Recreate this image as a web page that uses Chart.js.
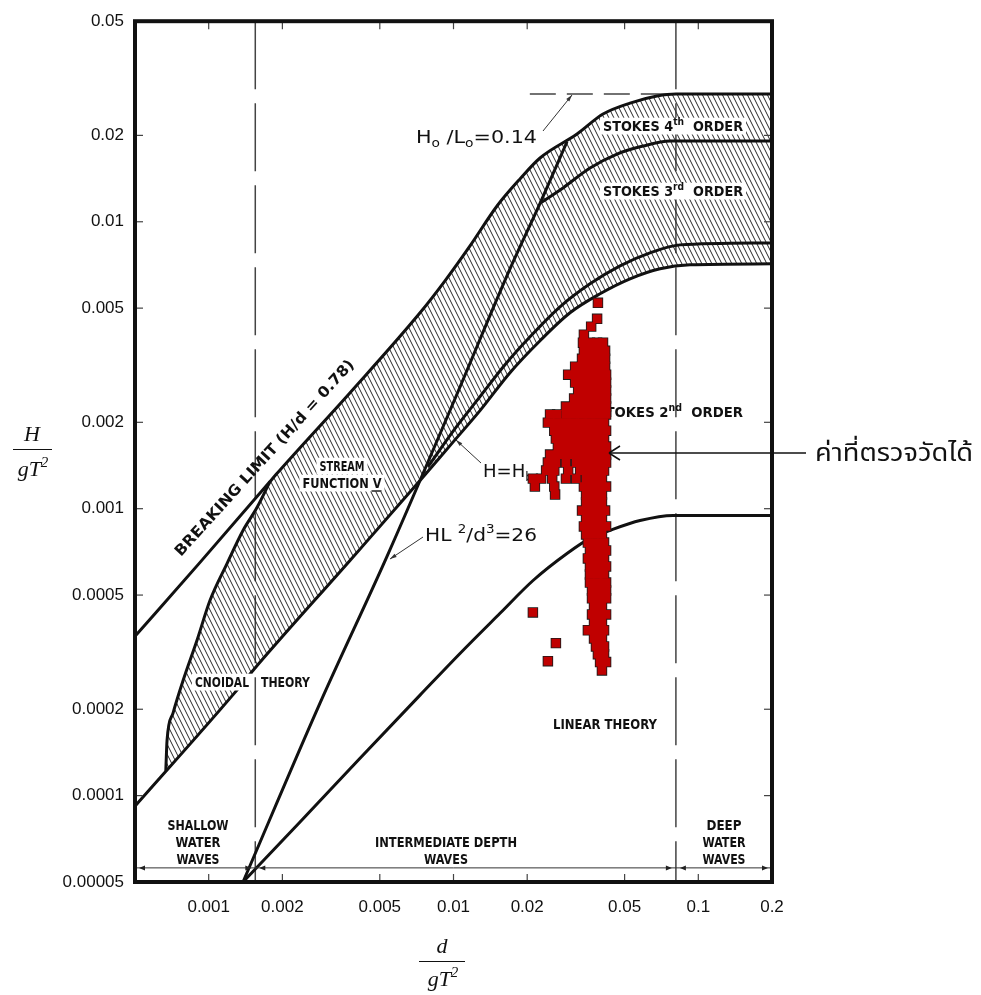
<!DOCTYPE html>
<html>
<head>
<meta charset="utf-8">
<script src="https://cdn.jsdelivr.net/npm/chart.js@4.4.1/dist/chart.umd.min.js"></script>
<style>
  html, body { margin: 0; background: #fff; }
  #wrap { width: 981px; height: 995px; position: relative; }
</style>
</head>
<body>
<div id="wrap"><canvas id="c"></canvas></div>
<script>
// axis ticks
const xTicks = [0.001, 0.002, 0.005, 0.01, 0.02, 0.05, 0.1, 0.2];
const xTickLabels = ['0.001', '0.002', '0.005', '0.01', '0.02', '0.05', '0.1', '0.2'];
const yTicks = [0.00005, 0.0001, 0.0002, 0.0005, 0.001, 0.002, 0.005, 0.01, 0.02, 0.05];
const yTickLabels = ['0.00005', '0.0001', '0.0002', '0.0005', '0.001', '0.002', '0.005', '0.01', '0.02', '0.05'];

// limits of validity (d/gT2 , H/gT2)
const breakingD = [0.0005, 0.000922, 0.00178, 0.001883, 0.00378, 0.0073, 0.00923, 0.01168, 0.01506, 0.01869, 0.02257, 0.03195, 0.04081, 0.05261, 0.06783, 0.081, 0.2];
const breakingH = [0.000359, 0.00065, 0.001243, 0.001315, 0.002537, 0.004817, 0.006224, 0.008239, 0.01135, 0.0141, 0.01668, 0.02021, 0.02374, 0.02592, 0.02742, 0.02786, 0.02786];
const cnoidalD = [0.000668, 0.000676, 0.000715, 0.000786, 0.000896, 0.001012, 0.001188, 0.001381, 0.001575, 0.00178];
const cnoidalH = [0.000122, 0.000156, 0.000194, 0.000252, 0.000348, 0.000479, 0.000644, 0.00084, 0.001009, 0.001243];
const quarterD = [0.0005, 0.001281, 0.001517, 0.003778, 0.0073, 0.009677, 0.01283, 0.01701, 0.02257, 0.02992, 0.03968, 0.05261, 0.06977, 0.0925, 0.2];
const quarterH = [0.0000919, 0.000229, 0.000273, 0.00066, 0.001253, 0.001659, 0.002196, 0.002978, 0.003849, 0.004817, 0.005609, 0.006323, 0.006854, 0.007077, 0.007134];
const ursellD = [0.001381, 0.002849, 0.005351, 0.010143, 0.01701, 0.02257, 0.02908];
const ursellH = [0.00005, 0.00021, 0.000682, 0.002417, 0.006854, 0.0116, 0.019];
const stokes43D = [0.02257, 0.02801, 0.03611, 0.04655, 0.05945, 0.07664, 0.2];
const stokes43H = [0.0116, 0.01312, 0.01539, 0.01722, 0.01836, 0.0191, 0.0191];
const stokes32D = [0.00787, 0.010143, 0.01283, 0.01623, 0.02054, 0.02723, 0.03611, 0.04789, 0.06348, 0.0842, 0.2];
const stokes32H = [0.001402, 0.001901, 0.002457, 0.003175, 0.003973, 0.005052, 0.006076, 0.00702, 0.007791, 0.008307, 0.008441];
const stokes2D = [0.001381, 0.002361, 0.004151, 0.0073, 0.01063, 0.01549, 0.02113, 0.02908, 0.03611, 0.0436, 0.0578, 0.07884, 0.2];
const stokes2H = [0.00005, 0.0000809, 0.000135, 0.000224, 0.000313, 0.000432, 0.000562, 0.000698, 0.000788, 0.00084, 0.000909, 0.000947, 0.000947];

// shallow / deep water limits and the deep water steepness H0/L0 = 0.14
const zoneLimits = [0.00155, 0.081];
const deepLimitH = 0.02786;
const deepDashFrom = 0.0205;
const zoneArrowH = 0.000056;

// measured waves: one H/gT2 per row, the d/gT2 values seen on that row
const obsH = [0.00522, 0.00459, 0.00431, 0.00404, 0.00379, 0.00355, 0.00333, 0.003125, 0.00293, 0.00275,
  0.00258, 0.00242, 0.00227, 0.00213, 0.001995, 0.00187, 0.001755, 0.001646, 0.001544, 0.001448,
  0.001358, 0.001273, 0.001194, 0.00112, 0.001051, 0.000985, 0.000924, 0.000867, 0.000813, 0.000762,
  0.000715, 0.000671, 0.000629, 0.00059, 0.000553, 0.000519, 0.000487, 0.000457, 0.000428, 0.000402,
  0.000377, 0.000353, 0.000331, 0.000311, 0.000292, 0.000273];
const obsD = [
  [0.0389], [0.0386], [0.0365], [0.0341],
  [0.0338, 0.0361, 0.0386, 0.0408],
  [0.0341, 0.0365, 0.0389, 0.0416],
  [0.0335, 0.0361, 0.0389, 0.0416],
  [0.0314, 0.0335, 0.0358, 0.0386, 0.0416],
  [0.0294, 0.0317, 0.0341, 0.0368, 0.0397, 0.042],
  [0.0314, 0.0338, 0.0365, 0.0393, 0.042],
  [0.0323, 0.0348, 0.0375, 0.0404, 0.042],
  [0.0311, 0.0335, 0.0361, 0.0389, 0.042],
  [0.0288, 0.0311, 0.0335, 0.0361, 0.0389, 0.042],
  [0.0248, 0.0265, 0.0288, 0.0311, 0.0335, 0.0361, 0.0389, 0.042],
  [0.0243, 0.0262, 0.0283, 0.0305, 0.0329, 0.0354, 0.0382, 0.0412],
  [0.0258, 0.0278, 0.0299, 0.0323, 0.0348, 0.0375, 0.0404, 0.042],
  [0.0262, 0.0283, 0.0305, 0.0329, 0.0354, 0.0382, 0.0412],
  [0.0267, 0.0288, 0.0311, 0.0335, 0.0361, 0.0389, 0.042],
  [0.0248, 0.0267, 0.0288, 0.0311, 0.0335, 0.0361, 0.0389, 0.042],
  [0.0243, 0.0262, 0.0288, 0.0317, 0.0341, 0.0368, 0.0397, 0.042],
  [0.0239, 0.0258, 0.0294, 0.0329, 0.0354, 0.0382, 0.0412],
  [0.0211, 0.0228, 0.0253, 0.0288, 0.0317, 0.0348, 0.0375, 0.0404],
  [0.0215, 0.0258, 0.0341, 0.0368, 0.0397, 0.042],
  [0.026, 0.0348, 0.0375, 0.0404],
  [0.0348, 0.0375, 0.0404],
  [0.0335, 0.0361, 0.0389, 0.0416],
  [0.0348, 0.0375, 0.0404],
  [0.0341, 0.0368, 0.0397, 0.042],
  [0.0348, 0.0375, 0.0404],
  [0.0354, 0.0382, 0.0412],
  [0.0361, 0.0389, 0.042],
  [0.0354, 0.0382, 0.0412],
  [0.0361, 0.0389, 0.042],
  [0.0361, 0.0389, 0.0412],
  [0.0361, 0.0389, 0.042],
  [0.0368, 0.0397, 0.042],
  [0.0368, 0.0397, 0.042],
  [0.0375, 0.0404],
  [0.0368, 0.0397, 0.042],
  [0.0375, 0.0404],
  [0.0354, 0.0382, 0.0412],
  [0.0375, 0.0404],
  [0.0382, 0.0412],
  [0.0389, 0.0412],
  [0.0397, 0.042],
  [0.0404]
];
const obsLoneD = [0.0211, 0.0262, 0.0243];
const obsLoneH = [0.000435, 0.00034, 0.000294];

const pts = (xs, ys) => xs.map((v, i) => ({ x: v, y: ys[i] }));
const measured = obsH.flatMap((h, i) => obsD[i].map(d => ({ x: d, y: h }))).concat(pts(obsLoneD, obsLoneH));
const lastCn = cnoidalD[cnoidalD.length - 1];
const hatchTop = pts(cnoidalD, cnoidalH).concat(pts(breakingD, breakingH).filter(p => p.x > lastCn));

// hatching
function hatchPattern() {
  const c = document.createElement('canvas');
  c.width = 5; c.height = 10;
  const g = c.getContext('2d');
  g.strokeStyle = '#262626';
  g.lineWidth = 1;
  g.beginPath();
  [-5, 0, 5].forEach(o => { g.moveTo(o - 5, -10); g.lineTo(o + 10, 20); });
  g.stroke();
  return g.createPattern(c, 'repeat');
}

const CAD = '"DejaVu Sans Condensed", "Liberation Sans Narrow", "DejaVu Sans", sans-serif';
const PLAIN = '"DejaVu Sans", sans-serif';
const SERIF = '"Liberation Serif", "DejaVu Serif", serif';

function rich(ctx, parts, x, y, o) {
  const fs = o.size;
  const fontFor = k => (o.style ? o.style + ' ' : '') + Math.round(k ? fs * 0.68 : fs) + 'px ' + o.family;
  let w = 0;
  parts.forEach(([t, k]) => { ctx.font = fontFor(k); w += ctx.measureText(t).width; });
  const sx = o.width ? o.width / w : 1;
  const W = w * sx;
  const x0 = o.align === 'center' ? x - W / 2 : x;
  ctx.save();
  if (o.box) {
    ctx.fillStyle = '#fff';
    ctx.fillRect(x0 - 3, y - fs * 0.95, W + 6, fs * 1.2);
  }
  ctx.translate(x0, y);
  ctx.scale(sx, 1);
  ctx.fillStyle = o.color || '#111';
  ctx.textAlign = 'left';
  ctx.textBaseline = 'alphabetic';
  let cx = 0;
  parts.forEach(([t, k]) => {
    ctx.font = fontFor(k);
    const dy = k === 'sup' ? -fs * 0.42 : (k === 'sub' ? fs * 0.22 : 0);
    ctx.fillText(t, cx, dy);
    cx += ctx.measureText(t).width;
  });
  ctx.restore();
  return { x0: x0, w: W };
}

function seg(ctx, x1, y1, x2, y2) {
  ctx.beginPath(); ctx.moveTo(x1, y1); ctx.lineTo(x2, y2); ctx.stroke();
}

function leader(ctx, x1, y1, x2, y2) {
  ctx.save();
  ctx.strokeStyle = '#333'; ctx.fillStyle = '#333'; ctx.lineWidth = 1;
  seg(ctx, x1, y1, x2, y2);
  const a = Math.atan2(y2 - y1, x2 - x1);
  ctx.beginPath();
  ctx.moveTo(x2, y2);
  ctx.lineTo(x2 - 7 * Math.cos(a - 0.28), y2 - 7 * Math.sin(a - 0.28));
  ctx.lineTo(x2 - 7 * Math.cos(a + 0.28), y2 - 7 * Math.sin(a + 0.28));
  ctx.closePath(); ctx.fill();
  ctx.restore();
}

function tri(ctx, x, y, dir) {
  ctx.beginPath();
  ctx.moveTo(x, y);
  ctx.lineTo(x - dir * 6, y - 2.5);
  ctx.lineTo(x - dir * 6, y + 2.5);
  ctx.closePath(); ctx.fill();
}

const LBL = { size: 14, family: CAD, style: 'bold' };
const lbl = extra => Object.assign({}, LBL, extra);

const decor = {
  id: 'decor',
  beforeDatasetsDraw(chart) {
    const { ctx, chartArea: a, scales: { x, y } } = chart;
    ctx.save();
    ctx.strokeStyle = '#444';
    ctx.lineWidth = 1.5;
    ctx.setLineDash([68, 14]);
    zoneLimits.forEach(v => { const px = x.getPixelForValue(v); seg(ctx, px, a.top, px, a.bottom); });
    ctx.setLineDash([26, 11]);
    const py = y.getPixelForValue(deepLimitH);
    seg(ctx, x.getPixelForValue(deepDashFrom), py, x.getPixelForValue(zoneLimits[1]), py);
    ctx.setLineDash([]);

    // labels partly hidden by the measured points
    rich(ctx, [['STOKES 2', ''], ['nd', 'sup'], ['  ORDER', '']], 596, 417, lbl({ width: 147 }));
    rich(ctx, [['H=H', ''], ['b', 'sub']], 483, 477, { size: 18, family: PLAIN, width: 50 });
    leader(ctx, 481, 463, 456, 440);
    ctx.restore();
  },
  afterDatasetsDraw(chart) {
    const { ctx, chartArea: a, scales: { x, y } } = chart;
    ctx.save();

    // region labels
    rich(ctx, [['STOKES 4', ''], ['th', 'sup'], ['  ORDER', '']], 603, 131, lbl({ width: 140, box: true }));
    rich(ctx, [['STOKES 3', ''], ['rd', 'sup'], ['  ORDER', '']], 603, 196, lbl({ width: 140, box: true }));
    rich(ctx, [['STREAM', '']], 342, 471, lbl({ width: 45, align: 'center', box: true }));
    const fn = rich(ctx, [['FUNCTION V', '']], 342, 488, lbl({ width: 79, align: 'center', box: true }));
    ctx.strokeStyle = '#111'; ctx.lineWidth = 1.4;
    seg(ctx, fn.x0 + fn.w - 10, 491, fn.x0 + fn.w, 491);
    rich(ctx, [['CNOIDAL', '']], 195, 687, lbl({ width: 54, box: true }));
    rich(ctx, [['THEORY', '']], 261, 687, lbl({ width: 49 }));
    rich(ctx, [['LINEAR THEORY', '']], 553, 729, lbl({ width: 104 }));

    ctx.save();
    ctx.translate(181, 557);
    ctx.rotate(Math.atan2(-192, 174));
    rich(ctx, [['BREAKING LIMIT (H/d = 0.78)', '']], 0, 0, lbl({ size: 15, width: 259 }));
    ctx.restore();

    [['SHALLOW', 830, 61], ['WATER', 847, 45], ['WAVES', 864, 43]].forEach(([t, by, w]) =>
      rich(ctx, [[t, '']], 198, by, lbl({ width: w, align: 'center' })));
    [['INTERMEDIATE DEPTH', 847, 142], ['WAVES', 864, 44]].forEach(([t, by, w]) =>
      rich(ctx, [[t, '']], 446, by, lbl({ width: w, align: 'center' })));
    [['DEEP', 830, 35], ['WATER', 847, 43], ['WAVES', 864, 43]].forEach(([t, by, w]) =>
      rich(ctx, [[t, '']], 724, by, lbl({ width: w, align: 'center' })));

    // formula labels with leaders
    rich(ctx, [['H', ''], ['o', 'sub'], [' /L', ''], ['o', 'sub'], ['=0.14', '']], 416, 143, { size: 18, family: PLAIN, width: 121 });
    leader(ctx, 543, 131, 572, 95);
    rich(ctx, [['HL ', ''], ['2', 'sup'], ['/d', ''], ['3', 'sup'], ['=26', '']], 425, 541, { size: 18, family: PLAIN, width: 112 });
    leader(ctx, 423, 537, 390, 559);

    // zone arrows along the bottom
    const ay = y.getPixelForValue(zoneArrowH);
    const xs = [a.left, x.getPixelForValue(zoneLimits[0]), x.getPixelForValue(zoneLimits[1]), a.right];
    ctx.strokeStyle = '#333'; ctx.fillStyle = '#222'; ctx.lineWidth = 1;
    seg(ctx, a.left, ay, a.right, ay);
    for (let i = 0; i < 3; i++) {
      tri(ctx, xs[i] + 4, ay, -1);
      tri(ctx, xs[i + 1] - 4, ay, 1);
    }

    // tick marks pointing inwards on all four sides
    ctx.strokeStyle = '#444'; ctx.lineWidth = 1.2;
    xTicks.forEach(v => {
      if (v >= 0.2) return;
      const px = x.getPixelForValue(v);
      seg(ctx, px, a.bottom, px, a.bottom - 8);
      seg(ctx, px, a.top, px, a.top + 8);
    });
    yTicks.forEach(v => {
      if (v <= 0.00005 || v >= 0.05) return;
      const py = y.getPixelForValue(v);
      seg(ctx, a.left, py, a.left + 8, py);
      seg(ctx, a.right, py, a.right - 8, py);
    });

    // frame
    ctx.strokeStyle = '#111'; ctx.lineWidth = 4;
    ctx.strokeRect(a.left, a.top, a.right - a.left, a.bottom - a.top);

    // axis titles as fractions
    rich(ctx, [['H', '']], 32, 441, { size: 22, family: SERIF, style: 'italic', align: 'center' });
    ctx.lineWidth = 1; ctx.strokeStyle = '#111';
    seg(ctx, 13, 449.5, 52, 449.5);
    rich(ctx, [['gT', ''], ['2', 'sup']], 33, 476, { size: 22, family: SERIF, style: 'italic', align: 'center' });
    rich(ctx, [['d', '']], 442, 953, { size: 22, family: SERIF, style: 'italic', align: 'center' });
    seg(ctx, 419, 961.5, 465, 961.5);
    rich(ctx, [['gT', ''], ['2', 'sup']], 443, 986, { size: 22, family: SERIF, style: 'italic', align: 'center' });

    // annotation for the measured points
    ctx.strokeStyle = '#111'; ctx.lineWidth = 1.5;
    seg(ctx, 806, 453, 609, 453);
    seg(ctx, 609, 453, 620, 446);
    seg(ctx, 609, 453, 620, 460);
    rich(ctx, [['ค่าที่ตรวจวัดได้', '']], 815, 461,
      { size: 25, family: '"Noto Sans Thai", "Noto Sans Thai UI", Tahoma, "Noto Sans", sans-serif', width: 158 });
    ctx.restore();
  }
};

const curve = (data, order) => ({
  data: data, borderColor: '#111', borderWidth: 3, pointRadius: 0, fill: false, order: order
});

Chart.defaults.font.family = '"Liberation Sans", Arial, sans-serif';

new Chart(document.getElementById('c'), {
  type: 'line',
  data: {
    datasets: [
      { data: measured, showLine: false, pointStyle: 'rect', pointRadius: 6.2, pointBorderWidth: 0,
        pointBackgroundColor: '#c00000', order: 0 },
      { data: measured, showLine: false, pointStyle: 'rect', pointRadius: 7.4, pointBorderWidth: 0,
        pointBackgroundColor: '#1a1a1a', order: 1 },
      curve(pts(breakingD, breakingH), 5),
      curve(pts(cnoidalD, cnoidalH), 5),
      curve(pts(quarterD, quarterH), 5),
      curve(pts(ursellD, ursellH), 5),
      curve(pts(stokes43D, stokes43H), 5),
      curve(pts(stokes32D, stokes32H), 5),
      curve(pts(stokes2D, stokes2H), 5),
      { data: hatchTop, borderWidth: 0, pointRadius: 0, fill: 4, backgroundColor: hatchPattern(), order: 20 }
    ]
  },
  options: {
    responsive: true,
    maintainAspectRatio: false,
    animation: false,
    events: [],
    layout: { padding: { top: 20, right: 209, bottom: 0, left: 0 } },
    elements: { line: { cubicInterpolationMode: 'monotone' } },
    plugins: { legend: { display: false }, tooltip: { enabled: false } },
    scales: {
      x: {
        type: 'logarithmic', min: 0.0005, max: 0.2, bounds: 'data',
        afterBuildTicks: s => { s.ticks = xTicks.map(v => ({ value: v })); },
        afterFit: s => { s.height = 113; },
        grid: { display: false, drawTicks: false },
        border: { display: false },
        ticks: { callback: (v, i) => xTickLabels[i], autoSkip: false, maxRotation: 0, padding: 15,
          color: '#111', font: { size: 17 } }
      },
      y: {
        type: 'logarithmic', min: 0.00005, max: 0.05, bounds: 'data',
        afterBuildTicks: s => { s.ticks = yTicks.map(v => ({ value: v })); },
        afterFit: s => { s.width = 135; },
        grid: { display: false, drawTicks: false },
        border: { display: false },
        ticks: { callback: (v, i) => yTickLabels[i], autoSkip: false, padding: 11,
          color: '#111', font: { size: 17 } }
      }
    }
  },
  plugins: [decor]
});
</script>
</body>
</html>
